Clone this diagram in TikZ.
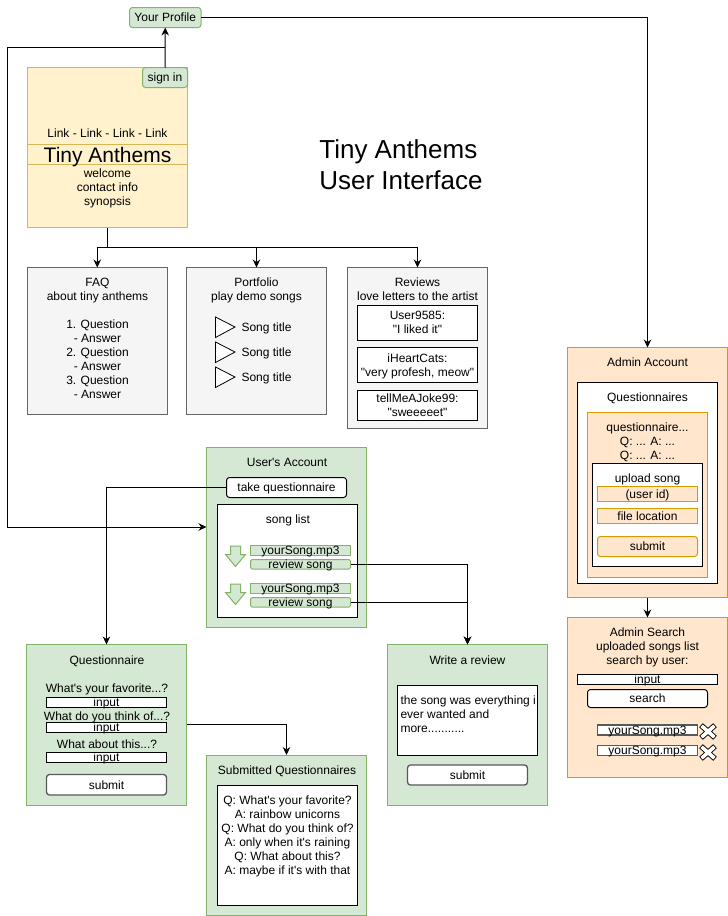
\documentclass[tikz,border=0pt]{standalone}
\usepackage{fontspec}
\setmainfont{Liberation Sans}
\newfontfamily\plainface{Liberation Sans}
\usetikzlibrary{arrows.meta}
\definecolor{gfill}{HTML}{D5E8D4}
\definecolor{gline}{HTML}{82B366}
\definecolor{yfill}{HTML}{FFF2CC}
\definecolor{yline}{HTML}{D6B656}
\definecolor{ofill}{HTML}{FFE6CC}
\definecolor{oline}{HTML}{D79B00}
\definecolor{sfill}{HTML}{F5F5F5}
\definecolor{sline}{HTML}{666666}
\newcommand\headstrut{\rule{0pt}{8pt}}
\newcommand\tailstrut{\rule[-4pt]{0pt}{4pt}}
\tikzset{
  boxbase/.style={draw,line width=1pt,inner sep=0pt,outer sep=0pt},
  green/.style={boxbase,draw=gline,fill=gfill},
  yellow/.style={boxbase,draw=yline,fill=yfill},
  orange/.style={boxbase,draw=oline,fill=ofill},
  silver/.style={boxbase,draw=sline,fill=sfill},
  plain/.style={boxbase,draw=black,fill=white},
  shaded/.style={boxbase,draw=black!65,fill=white,line width=1.3pt},
  soft/.style={rounded corners=3pt},
  softer/.style={rounded corners=1.5pt},
  lbl/.style={inner sep=0pt,outer sep=0pt,align=center,yshift=-2pt,font=\plainface\fontsize{12}{14}\selectfont,
    execute at begin node=\headstrut,execute at end node=\tailstrut},
  conn/.style={draw=black,line width=1pt,-{Stealth[length=8pt,width=7.5pt]}},
  link/.style={draw=black,line width=1pt},
  tri/.style={draw=black,fill=white,line width=.8pt},
  dl/.style={draw=gline,fill=gfill,line width=1pt},
}
% \bxx{style}{name}{x1}{y1}{x2}{y2}{text}
\newcommand\bxx[7]{%
  \node[#1,minimum width=#5pt-#3pt,minimum height=#6pt-#4pt] (#2) at ({(#3+#5)/2},{(#4+#6)/2}) {};
  \node[lbl] (#2-t) at (#2.center) {#7};
}
% \lbx[opts]{name}{x}{y}{text}
\newcommand\lbx[5][]{\node[lbl,#1] (#2) at (#3,#4) {#5};}
\newcommand\tria[1]{\draw[tri] (215.5,#1-10) -- (235,#1) -- (215.5,#1+10.5) -- cycle;}
\newcommand\dlarrow[1]{\draw[dl] (230.5,#1) -- (240.5,#1) -- (240.5,#1+8.5) -- (245.5,#1+8.5) -- (235.5,#1+20.5) -- (225.5,#1+8.5) -- (230.5,#1+8.5) -- cycle;}
\newcommand\crossmark[2]{%
  \draw[black,line width=5.4pt] (#1-7,#2-6.3) -- (#1+7,#2+6.3) (#1-7,#2+6.3) -- (#1+7,#2-6.3);
  \draw[white,line width=3.6pt] (#1-6.4,#2-5.7) -- (#1+6.4,#2+5.7) (#1-6.4,#2+5.7) -- (#1+6.4,#2-5.7);
}
\begin{document}
\begin{tikzpicture}[x=1pt,y=-1pt]
\useasboundingbox[fill=white] (0,0) rectangle (728,916);
% home
\bxx{green,soft}{profile}{129.5}{7.5}{201}{27.5}{Your Profile}
\bxx{yellow}{home}{27.5}{67.5}{187.5}{227.5}{}
\bxx{green,soft}{signin}{142.5}{67.5}{187.5}{87.5}{sign in}
\lbx{homelinks}{107.5}{133.5}{Link - Link - Link - Link}
\bxx{yellow,fill=none}{band}{27.5}{144.5}{187.5}{164.5}{}
\node[inner sep=0pt,font=\fontsize{21}{25}\selectfont] (hometitle) at (107.5,157) {Tiny Anthems};
\lbx{hometext}{107.5}{187}{welcome\\contact info\\synopsis}
\node[inner sep=0pt,outer sep=0pt,align=left,font=\fontsize{26}{31}\selectfont] (maintitle) at (401,165) {Tiny Anthems\\User Interface};
% FAQ
\bxx{silver}{faq}{27}{267.5}{167.5}{414.5}{}
\lbx{faqtext}{97.5}{338}{FAQ\\about tiny anthems\\\\1. Question\\- Answer\\2. Question\\- Answer\\3. Question\\- Answer}
% Portfolio
\bxx{silver}{port}{186.5}{267.5}{326.5}{414.5}{}
\lbx{porttext}{256.5}{289}{Portfolio\\play demo songs}
\tria{327}\tria{352}\tria{377}
\lbx[anchor=west]{song1}{241.5}{327}{Song title}
\lbx[anchor=west]{song2}{241.5}{352}{Song title}
\lbx[anchor=west]{song3}{241.5}{377}{Song title}
% Reviews
\bxx{silver}{reviews}{347.5}{267.5}{487.5}{428}{}
\lbx{revtext}{417.5}{289}{Reviews\\love letters to the artist}
\bxx{plain}{rev1}{357.5}{305.5}{477.5}{340}{User9585:\\"I liked it"}
\bxx{plain}{rev2}{357.5}{347.5}{477.5}{382}{iHeartCats:\\"very profesh, meow"}
\bxx{plain}{rev3}{357.5}{390}{477.5}{420.5}{tellMeAJoke99:\\"sweeeeet"}
% User account
\bxx{green}{account}{206.5}{447.5}{366.5}{627.5}{}
\lbx{acctitle}{287}{462}{User's Account}
\bxx{plain,soft}{takeq}{226.5}{477.5}{346.5}{497.5}{take questionnaire}
\bxx{plain}{songlist}{217.5}{504.5}{357.5}{617.5}{}
\lbx{songlisttitle}{288}{519}{song list}
\dlarrow{546}
\dlarrow{584}
\bxx{green}{song-a}{250.5}{545.5}{350.5}{555}{yourSong.mp3}
\bxx{green,softer}{review-a}{250.5}{559.5}{350.5}{569}{review song}
\bxx{green}{song-b}{250.5}{583.5}{350.5}{593}{yourSong.mp3}
\bxx{green,softer}{review-b}{250.5}{597.5}{350.5}{607}{review song}
% Admin
\bxx{orange}{admin}{567.5}{347.5}{727.5}{597.5}{}
\lbx{admintitle}{647.5}{362}{Admin Account}
\bxx{plain}{adminq}{577.5}{382.5}{717.5}{583}{}
\lbx{adminqtitle}{647.5}{397}{Questionnaires}
\bxx{orange}{adminq2}{587.5}{412.5}{707.5}{577.5}{}
\lbx{adminqtext}{647.5}{441}{questionnaire...\\Q: ... A: ...\\Q: ... A: ...}
\bxx{plain}{upload}{592.5}{463.5}{702.5}{566.5}{}
\lbx{uploadtitle}{647.5}{478}{upload song}
\bxx{orange}{userid}{597.5}{486.5}{697.5}{501.5}{(user id)}
\bxx{orange}{fileloc}{597.5}{508.5}{697.5}{523.5}{file location}
\bxx{orange,soft}{adminsubmit}{597.5}{536.5}{697.5}{556.5}{submit}
% Admin search
\bxx{orange}{search}{567.5}{617.5}{727.5}{777.5}{}
\lbx{searchtitle}{647.5}{646}{Admin Search\\uploaded songs list\\search by user:}
\bxx{plain}{searchin}{577.5}{674.5}{717.5}{684.5}{input}
\bxx{plain,soft}{searchbtn}{587.5}{689.5}{707.5}{707.5}{search}
\bxx{shaded}{found-a}{597.5}{725}{697.5}{735}{yourSong.mp3}
\bxx{shaded}{found-b}{597.5}{745.5}{697.5}{755.5}{yourSong.mp3}
\crossmark{708}{731.5}
\crossmark{708}{752.5}
% Questionnaire
\bxx{green}{quest}{26.5}{644.5}{186.5}{805}{}
\lbx{questtitle}{107}{660}{Questionnaire}
\lbx{q1}{107}{688}{What's your favorite...?}
\bxx{plain}{in1}{46.5}{697.5}{166.5}{707.5}{input}
\lbx{q2}{107}{716}{What do you think of...?}
\bxx{plain}{in2}{46.5}{722.5}{166.5}{732.5}{input}
\lbx{q3}{107}{744}{What about this...?}
\bxx{plain}{in3}{46.5}{752.5}{166.5}{762.5}{input}
\bxx{shaded,soft}{questsubmit}{46.5}{774.5}{166.5}{795}{submit}
% Submitted
\bxx{green}{submitted}{206.5}{755}{366.5}{915}{}
\lbx{subtitle}{287}{770}{Submitted Questionnaires}
\bxx{plain}{subbody}{217.5}{785}{357.5}{905}{}
\lbx{subtext}{287.5}{835}{Q: What's your favorite?\\A: rainbow unicorns\\Q: What do you think of?\\A: only when it's raining\\Q: What about this?\\A: maybe if it's with that}
% Write review
\bxx{green}{write}{387.5}{644.5}{547.5}{805}{}
\lbx{writetitle}{467.5}{660}{Write a review}
\bxx{plain}{writebody}{397.5}{685}{537.5}{755}{}
\node[lbl,align=left,anchor=north west] (writetext) at (400.5,694) {the song was everything i\\ever wanted and\\more...........};
\bxx{shaded,soft}{writesubmit}{407.5}{765}{527.5}{785}{submit}
% connectors
\coordinate (j1) at (165,47.5);
\coordinate (leftdown) at (7.5,527);
\coordinate (j2) at (107.5,247.5);
\draw[conn] (signin.north) -- (profile.south);
\draw[conn] (j1) -| (leftdown) -- (leftdown -| account.west);
\draw[conn] (profile.east) -| (admin.north);
\draw[link] (home.south) -- (j2);
\draw[conn] (j2) -| (faq.north);
\draw[conn] (j2) -| (port.north);
\draw[conn] (j2) -| (reviews.north);
\draw[conn] (admin.south) -- (search.north);
\draw[conn] (takeq.west) -| (quest.north);
\draw[conn] (review-a.east) -| (write.north);
\draw[conn] (review-b.east) -| (write.north);
\draw[conn] (quest.east) -| (submitted.north);
\end{tikzpicture}
\end{document}
